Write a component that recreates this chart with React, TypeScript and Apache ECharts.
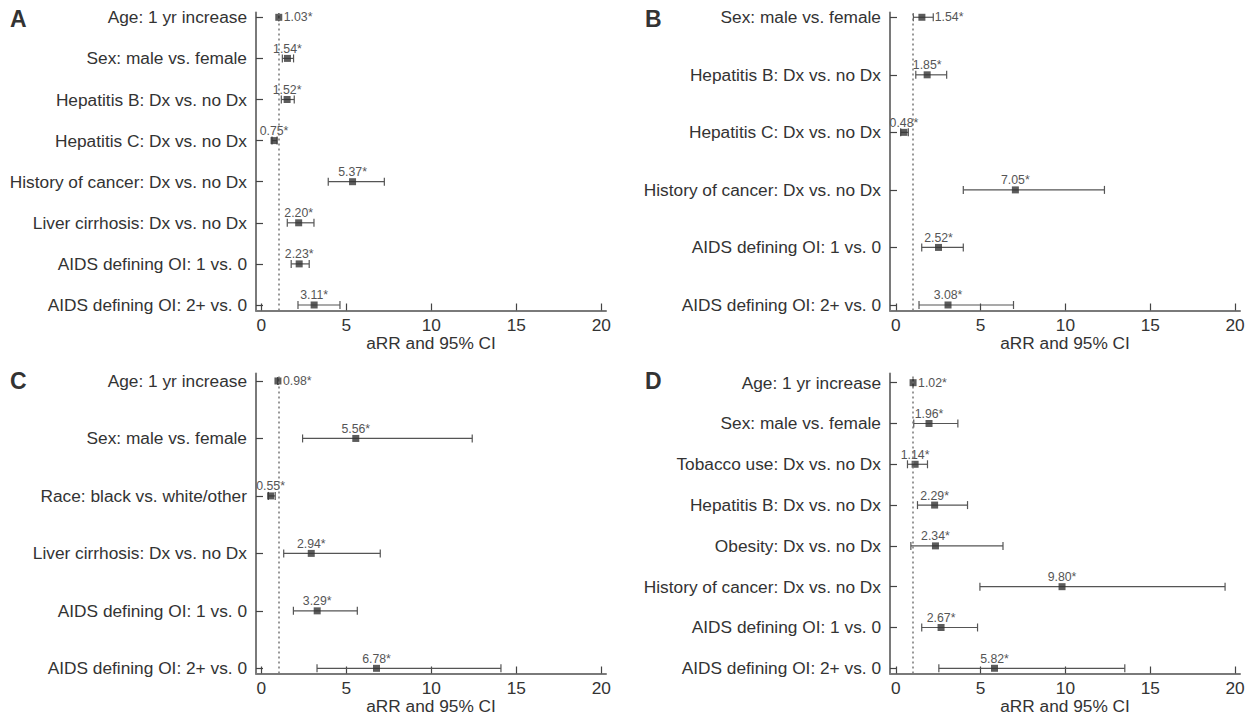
import React, { useEffect, useRef } from "react";
import * as echarts from "echarts";

// ---------- DATA ----------
const catsA = [
  "Age: 1 yr increase",
  "Sex: male vs. female",
  "Hepatitis B: Dx vs. no Dx",
  "Hepatitis C: Dx vs. no Dx",
  "History of cancer: Dx vs. no Dx",
  "Liver cirrhosis: Dx vs. no Dx",
  "AIDS defining OI: 1 vs. 0",
  "AIDS defining OI: 2+ vs. 0",
];
const estA = [1.03, 1.54, 1.52, 0.75, 5.37, 2.2, 2.23, 3.11];
const loA = [1.02, 1.24, 1.18, 0.63, 3.94, 1.53, 1.76, 2.16];
const hiA = [1.04, 1.9, 1.94, 0.93, 7.24, 3.1, 2.82, 4.63];

const catsB = [
  "Sex: male vs. female",
  "Hepatitis B: Dx vs. no Dx",
  "Hepatitis C: Dx vs. no Dx",
  "History of cancer: Dx vs. no Dx",
  "AIDS defining OI: 1 vs. 0",
  "AIDS defining OI: 2+ vs. 0",
];
const estB = [1.54, 1.85, 0.48, 7.05, 2.52, 3.08];
const loB = [1.04, 1.18, 0.29, 3.98, 1.53, 1.37];
const hiB = [2.21, 3.0, 0.74, 12.3, 3.98, 6.94];

const catsC = [
  "Age: 1 yr increase",
  "Sex: male vs. female",
  "Race: black vs. white/other",
  "Liver cirrhosis: Dx vs. no Dx",
  "AIDS defining OI: 1 vs. 0",
  "AIDS defining OI: 2+ vs. 0",
];
const estC = [0.98, 5.56, 0.55, 2.94, 3.29, 6.78];
const loC = [0.97, 2.43, 0.42, 1.32, 1.89, 3.28];
const hiC = [0.99, 12.41, 0.82, 7.0, 5.65, 14.1];

const catsD = [
  "Age: 1 yr increase",
  "Sex: male vs. female",
  "Tobacco use: Dx vs. no Dx",
  "Hepatitis B: Dx vs. no Dx",
  "Obesity: Dx vs. no Dx",
  "History of cancer: Dx vs. no Dx",
  "AIDS defining OI: 1 vs. 0",
  "AIDS defining OI: 2+ vs. 0",
];
const estD = [1.02, 1.96, 1.14, 2.29, 2.34, 9.8, 2.67, 5.82];
const loD = [1.01, 1.06, 0.69, 1.28, 0.89, 4.96, 1.53, 2.54];
const hiD = [1.03, 3.66, 1.87, 4.23, 6.32, 19.41, 4.82, 13.5];

const xTicks = [0, 5, 10, 15, 20];
const refValue = 1;
const xTitle = "aRR and 95% CI";

// ---------- LAYOUT ----------
const FONT = "'Liberation Sans', Arial, Helvetica, sans-serif";

const panels = [
  { letter: "A", cats: catsA, est: estA, lo: loA, hi: hiA, left: 256, top: 12.5, width: 350, height: 298, xmin: -0.31, xmax: 20.28, ymin: -0.134, ymax: 7.117, lx: 10, ly: 7 },
  { letter: "B", cats: catsB, est: estB, lo: loB, hi: hiB, left: 890, top: 12.5, width: 350, height: 298, xmin: -0.34, xmax: 20.29, ymin: -0.096, ymax: 5.083, lx: 645, ly: 7 },
  { letter: "C", cats: catsC, est: estC, lo: loC, hi: hiC, left: 256, top: 373.5, width: 350, height: 300, xmin: -0.31, xmax: 20.28, ymin: -0.09, ymax: 5.13, lx: 10, ly: 369 },
  { letter: "D", cats: catsD, est: estD, lo: loD, hi: hiD, left: 890, top: 373.5, width: 350, height: 300, xmin: -0.34, xmax: 20.29, ymin: -0.128, ymax: 7.225, lx: 645, ly: 369 },
];

function buildOption() {
  const grid: any[] = [];
  const xAxis: any[] = [];
  const yAxis: any[] = [];
  const series: any[] = [];
  const graphic: any[] = [];

  panels.forEach((p, gi) => {
    const n = p.cats.length;
    grid.push({ left: p.left, top: p.top, width: p.width, height: p.height, containLabel: false });
    xAxis.push({
      type: "value",
      gridIndex: gi,
      min: p.xmin,
      max: p.xmax,
      axisLine: { show: true, onZero: false, lineStyle: { color: "#7a7a7a", width: 2 } },
      axisTick: { show: true, inside: true, length: 7, customValues: xTicks, lineStyle: { color: "#444", width: 1.2 } },
      axisLabel: { show: true, customValues: xTicks, fontSize: 17.3, color: "#333", fontFamily: FONT, margin: 6 },
      splitLine: { show: false },
      name: xTitle,
      nameLocation: "middle",
      nameGap: 22,
      nameTextStyle: { fontSize: 17.3, color: "#333", fontFamily: FONT },
    });
    const rows = p.cats.map((_, i) => n - 1 - i);
    yAxis.push({
      type: "value",
      gridIndex: gi,
      min: p.ymin,
      max: p.ymax,
      axisLine: { show: true, onZero: false, lineStyle: { color: "#7a7a7a", width: 2 } },
      axisTick: { show: true, inside: true, length: 7, customValues: rows, lineStyle: { color: "#444", width: 1.2 } },
      axisLabel: {
        show: true,
        customValues: rows,
        fontSize: 17.3,
        color: "#333",
        fontFamily: FONT,
        margin: 9,
        formatter: (v: number) => p.cats[n - 1 - Math.round(v)] ?? "",
      },
      splitLine: { show: false },
    });

    series.push({
      type: "custom",
      xAxisIndex: gi,
      yAxisIndex: gi,
      silent: true,
      z: 2,
      data: p.cats.map((_, i) => [p.lo[i], p.hi[i], n - 1 - i, p.est[i], i === 0 ? 1 : 0]),
      encode: { x: [0, 1], y: 2 },
      renderItem: (params: any, api: any) => {
        const a = api.coord([api.value(0), api.value(2)]);
        const b = api.coord([api.value(1), api.value(2)]);
        const c = api.coord([api.value(3), api.value(2)]);
        const first = api.value(4) === 1;
        const txt = Number(api.value(3)).toFixed(2) + "*";
        const style = { stroke: "#555", lineWidth: 1.2, fill: "none" };
        const label = first
          ? {
              type: "text",
              x: Math.max(b[0], c[0] + 3.5) + 1.5,
              y: c[1],
              style: { text: txt, fill: "#555", fontSize: 12.3, fontFamily: FONT, align: "left", verticalAlign: "middle" },
            }
          : {
              type: "text",
              x: c[0],
              y: c[1] - 9.5,
              style: { text: txt, fill: "#555", fontSize: 12.3, fontFamily: FONT, align: "center", verticalAlign: "middle" },
            };
        return {
          type: "group",
          children: [
            { type: "line", shape: { x1: a[0], y1: a[1], x2: b[0], y2: b[1] }, style },
            { type: "line", shape: { x1: a[0], y1: a[1] - 4, x2: a[0], y2: a[1] + 4 }, style },
            { type: "line", shape: { x1: b[0], y1: b[1] - 4, x2: b[0], y2: b[1] + 4 }, style },
            label,
          ],
        };
      },
    });

    series.push({
      type: "scatter",
      xAxisIndex: gi,
      yAxisIndex: gi,
      z: 3,
      symbol: "rect",
      symbolSize: [7, 7],
      itemStyle: { color: "#333" },
      data: p.est.map((v, i) => [v, n - 1 - i]),
      markLine: {
        silent: true,
        symbol: ["none", "none"],
        label: { show: false },
        lineStyle: { type: [2, 3], color: "#777", width: 1.5 },
        data: [{ xAxis: refValue }],
        animation: false,
      },
    });

    graphic.push({
      type: "text",
      left: p.lx,
      top: p.ly,
      style: { text: p.letter, fontSize: 23, fontWeight: "bold", fill: "#333", fontFamily: FONT },
    });
  });

  return { animation: false, backgroundColor: "#fff", grid, xAxis, yAxis, series, graphic };
}

export default function App() {
  const ref = useRef<HTMLDivElement>(null);
  useEffect(() => {
    if (!ref.current) return;
    const chart = echarts.init(ref.current, undefined, { renderer: "svg" });
    chart.setOption(buildOption() as any);
    return () => chart.dispose();
  }, []);
  return (
    <div
      ref={ref}
      style={{ position: "absolute", left: 0, top: 0, width: 1252, height: 716, background: "#fff" }}
    />
  );
}
